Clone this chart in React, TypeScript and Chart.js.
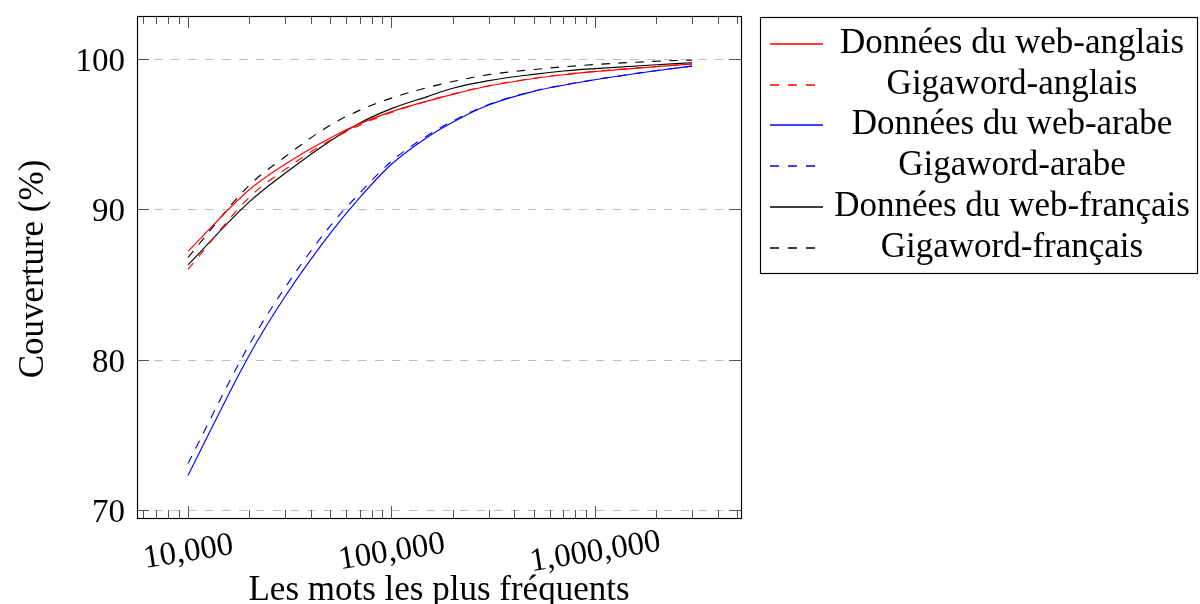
import React, { useEffect, useRef } from "react";
import { Chart, registerables } from "chart.js";

Chart.register(...registerables);

// ---- data ----
const words = [10000, 20000, 30000, 50000, 70000, 100000, 150000, 200000, 300000, 500000, 700000, 1000000, 2000000, 3000000];
const webAnglais = [87.2, 91.3, 93.0, 94.75, 95.7, 96.5, 97.2, 97.65, 98.2, 98.7, 98.95, 99.16, 99.49, 99.67];
const gigaAnglais = [86.0, 90.8, 92.65, 94.6, 95.6, 96.45, 97.2, 97.67, 98.22, 98.72, 98.97, 99.18, 99.5, 99.68];
const webArabe = [72.3, 80.3, 84.2, 88.4, 90.8, 93.0, 94.8, 95.8, 96.94, 97.85, 98.25, 98.62, 99.22, 99.53];
const gigaArabe = [73.1, 81.0, 84.8, 88.9, 91.1, 93.2, 94.9, 95.87, 96.97, 97.87, 98.27, 98.63, 99.23, 99.53];
const webFrancais = [86.3, 90.5, 92.4, 94.55, 95.75, 96.7, 97.5, 98.05, 98.56, 98.98, 99.2, 99.36, 99.62, 99.75];
const gigaFrancais = [86.8, 91.6, 93.5, 95.6, 96.6, 97.4, 98.1, 98.5, 98.96, 99.3, 99.48, 99.63, 99.85, 99.93];

const seriesLabels = [
  "Données du web-anglais",
  "Gigaword-anglais",
  "Données du web-arabe",
  "Gigaword-arabe",
  "Données du web-français",
  "Gigaword-français",
];
const seriesValues = [webAnglais, gigaAnglais, webArabe, gigaArabe, webFrancais, gigaFrancais];
const seriesColors = ["#ff0000", "#ff0000", "#0000ff", "#0000ff", "#000000", "#000000"];
const seriesDashed = [false, true, false, true, false, true];

const yTicks = [70, 80, 90, 100];
const xMajorTicks = [10000, 100000, 1000000];
const xTickLabels = ["10,000", "100,000", "1,000,000"];
const xTitle = "Les mots les plus fréquents";
const yTitle = "Couverture (%)";

const DASH = [8.5, 8.5];
const SERIF = "'Liberation Serif', 'Times New Roman', serif";

const pgfPlugin = {
  id: "pgf",
  beforeDatasetsDraw(chart: any) {
    const { ctx, chartArea: a, scales } = chart;
    const y = scales.y;
    ctx.save();
    ctx.strokeStyle = "#bdbdbd";
    ctx.lineWidth = 1.1;
    ctx.setLineDash(DASH);
    for (const t of yTicks) {
      const py = Math.round(y.getPixelForValue(t)) + 0.5;
      ctx.beginPath();
      ctx.moveTo(a.left, py);
      ctx.lineTo(a.right, py);
      ctx.stroke();
    }
    ctx.restore();
  },
  afterDatasetsDraw(chart: any) {
    const { ctx, chartArea: a, scales } = chart;
    const x = scales.x;
    const y = scales.y;
    ctx.save();

    // ticks (inward)
    ctx.strokeStyle = "#555";
    ctx.lineWidth = 1;
    ctx.setLineDash([]);
    const minE = Math.floor(Math.log10(x.min));
    const maxE = Math.ceil(Math.log10(x.max));
    for (let e = minE; e <= maxE; e++) {
      for (let k = 1; k <= 9; k++) {
        const v = k * Math.pow(10, e);
        if (v < x.min || v > x.max) continue;
        const len = k === 1 ? 12 : 8;
        const px = Math.round(x.getPixelForValue(v)) + 0.5;
        ctx.beginPath();
        ctx.moveTo(px, a.bottom);
        ctx.lineTo(px, a.bottom - len);
        ctx.moveTo(px, a.top);
        ctx.lineTo(px, a.top + len);
        ctx.stroke();
      }
    }
    for (const t of yTicks) {
      const py = Math.round(y.getPixelForValue(t)) + 0.5;
      ctx.beginPath();
      ctx.moveTo(a.left, py);
      ctx.lineTo(a.left + 12, py);
      ctx.moveTo(a.right, py);
      ctx.lineTo(a.right - 12, py);
      ctx.stroke();
    }

    // frame
    ctx.strokeStyle = "#000";
    ctx.lineWidth = 1.15;
    ctx.strokeRect(Math.round(a.left) + 0.5, Math.round(a.top) + 0.5, Math.round(a.right - a.left), Math.round(a.bottom - a.top));

    // y tick labels
    ctx.fillStyle = "#000";
    ctx.font = `33px ${SERIF}`;
    ctx.textAlign = "right";
    ctx.textBaseline = "alphabetic";
    for (const t of yTicks) {
      const py = y.getPixelForValue(t);
      ctx.fillText(String(t), a.left - 12, py + 12);
    }

    // x tick labels (rotated, centered under tick)
    ctx.textAlign = "center";
    xMajorTicks.forEach((v, i) => {
      const px = x.getPixelForValue(v);
      ctx.save();
      ctx.translate(px, a.bottom + 32);
      ctx.rotate((-9 * Math.PI) / 180);
      ctx.fillText(xTickLabels[i], 0, 11);
      ctx.restore();
    });

    // axis titles
    ctx.font = `35px ${SERIF}`;
    ctx.textAlign = "center";
    ctx.fillText(xTitle, (a.left + a.right) / 2, 600);
    ctx.save();
    ctx.translate(43, (a.top + a.bottom) / 2 + 2);
    ctx.rotate(-Math.PI / 2);
    ctx.fillText(yTitle, 0, 0);
    ctx.restore();

    // legend
    const bx = 760.5, by = 17.5, bw = 437, bh = 256;
    ctx.strokeStyle = "#000";
    ctx.lineWidth = 1.15;
    ctx.setLineDash([]);
    ctx.strokeRect(bx, by, bw, bh);
    const rowStart = 44;
    const rowStep = 40.7;
    for (let i = 0; i < seriesLabels.length; i++) {
      const ry = Math.round(rowStart + i * rowStep);
      ctx.save();
      ctx.strokeStyle = seriesColors[i];
      ctx.lineWidth = 1.5;
      ctx.setLineDash(seriesDashed[i] ? [9, 9] : []);
      ctx.beginPath();
      ctx.moveTo(770, ry);
      ctx.lineTo(823, ry);
      ctx.stroke();
      ctx.restore();
      ctx.fillStyle = "#000";
      ctx.font = `35px ${SERIF}`;
      ctx.textAlign = "center";
      ctx.fillText(seriesLabels[i], 1012, ry + 9);
    }

    ctx.restore();
  },
};

export default function App() {
  const canvasRef = useRef<HTMLCanvasElement | null>(null);

  useEffect(() => {
    const canvas = canvasRef.current;
    if (!canvas) return;
    const datasets = seriesLabels.map((label, i) => ({
      label,
      data: words.map((w, j) => ({ x: w, y: seriesValues[i][j] })),
      borderColor: seriesColors[i],
      backgroundColor: seriesColors[i],
      borderWidth: 1.15,
      borderDash: seriesDashed[i] ? DASH : [],
      pointRadius: 0,
      fill: false,
      cubicInterpolationMode: "monotone" as const,
    }));
    const chart = new Chart(canvas, {
      type: "line",
      data: { datasets },
      options: {
        animation: false,
        responsive: true,
        maintainAspectRatio: false,
        events: [],
        layout: { padding: { left: 137, right: 459, top: 16, bottom: 86 } },
        plugins: { legend: { display: false }, tooltip: { enabled: false } },
        scales: {
          x: { type: "logarithmic", min: 5616, max: 5218000, display: false },
          y: { type: "linear", min: 69.47, max: 102.86, display: false },
        },
      },
      plugins: [pgfPlugin],
    });
    return () => chart.destroy();
  }, []);

  return (
    <div style={{ position: "fixed", left: 0, top: 0, width: 1200, height: 604, background: "#fff" }}>
      <canvas ref={canvasRef} />
    </div>
  );
}
